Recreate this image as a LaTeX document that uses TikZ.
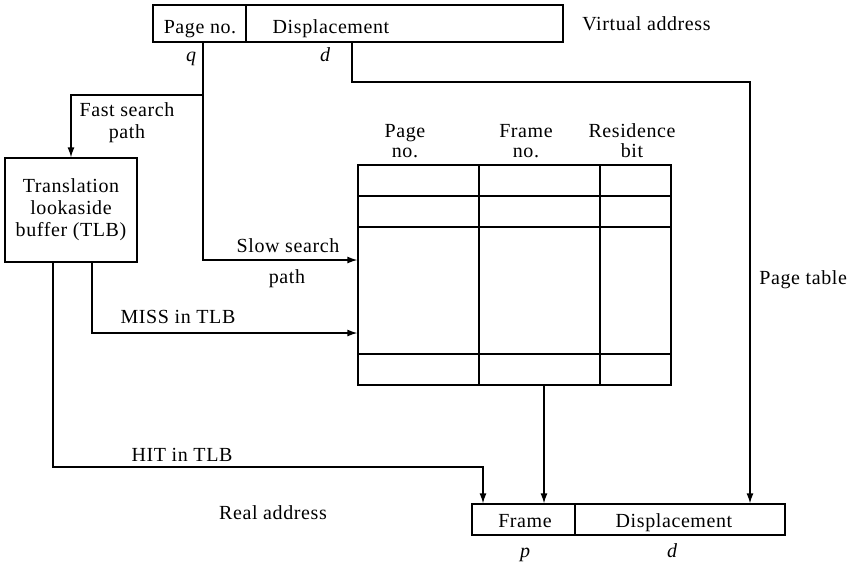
\documentclass[tikz,border=0pt]{standalone}
\usepackage{fontspec}
\setmainfont{Liberation Serif}[LetterSpace=3]
\usetikzlibrary{arrows.meta}
\begin{document}
\begin{tikzpicture}[x=0.5pt,y=-0.5pt,
  every node/.style={font=\fontsize{10}{11}\selectfont, inner sep=0pt},
  lbl/.style={anchor=base},
  boxed/.style={draw, line width=0.65pt},
  conn/.style={line width=0.65pt},
  arr/.style={conn, -{Latex[length=5pt,width=3.5pt]}}]
\useasboundingbox (0,0) rectangle (852,564);

% Virtual address
\node[boxed, minimum width=205pt, minimum height=18.5pt] (va) at (358,23.5) {};
\coordinate (vdiv) at (246,0);
\draw[conn] (va.north -| vdiv) -- (va.south -| vdiv);
\node[lbl] (tpage) at (200,33) {Page no.};
\node[lbl] (tdisp) at (331,33) {Displacement};
\node[lbl, anchor=base west] (tva) at (582,30) {Virtual address};
\node[lbl] (tq) at (191,61) {\itshape q};
\node[lbl] (td) at (325,61) {\itshape d};

% TLB
\node[boxed, minimum width=66pt, minimum height=52pt, align=center] (tlb) at (71,210)
  {Translation\\lookaside\\buffer (TLB)};
\node[lbl] (fs1) at (127,116) {Fast search};
\node[lbl] (fs2) at (127,138) {path};

% Page table
\node[boxed, minimum width=156.5pt, minimum height=110pt] (pt) at (514.5,275) {};
\draw[conn] (358,196) -- (671,196);
\draw[conn] (358,227) -- (671,227);
\draw[conn] (358,354) -- (671,354);
\draw[conn] (479,165) -- (479,385);
\draw[conn] (600,165) -- (600,385);
\node[lbl] (h1a) at (405,137) {Page};
\node[lbl] (h1b) at (405,157) {no.};
\node[lbl] (h2a) at (526,137) {Frame};
\node[lbl] (h2b) at (526,157) {no.};
\node[lbl] (h3a) at (632,137) {Residence};
\node[lbl] (h3b) at (632,157) {bit};
\node[lbl, anchor=base west] (tpt) at (759,284) {Page table};

\node[lbl] (ss1) at (288,252) {Slow search};
\node[lbl] (ss2) at (287,283) {path};
\node[lbl] (miss) at (178,323) {MISS in TLB};
\node[lbl] (hit) at (182,461) {HIT in TLB};
\node[lbl] (real) at (273,519) {Real address};

% Real address
\node[boxed, minimum width=156.5pt, minimum height=15.5pt] (ra) at (628.5,519.5) {};
\coordinate (rdiv) at (575,0);
\draw[conn] (ra.north -| rdiv) -- (ra.south -| rdiv);
\node[lbl] (tframe) at (525,527) {Frame};
\node[lbl] (tdisp2) at (674,527) {Displacement};
\node[lbl] (tp) at (525,557) {\itshape p};
\node[lbl] (td2) at (672,557) {\itshape d};

% connectors
\coordinate (qx) at (203,0);
\coordinate (dx) at (352,0);
\coordinate (dturn) at (750,82);
\coordinate (slowy) at (0,260);
\coordinate (fbranch) at (203,95);
\coordinate (missx) at (92,0);
\coordinate (missy) at (0,333);
\coordinate (hitx) at (53,0);
\coordinate (hitturn) at (483,467);
\coordinate (fx) at (544,0);

\draw[arr] (va.south -| dx) |- (dturn) -- (ra.north -| dturn);
\draw[arr] (va.south -| qx) |- (pt.west |- slowy);
\draw[arr] (fbranch) -| (tlb.north);
\draw[arr] (tlb.south -| missx) |- (pt.west |- missy);
\draw[arr] (tlb.south -| hitx) |- (hitturn) -- (ra.north -| hitturn);
\draw[arr] (pt.south -| fx) -- (ra.north -| fx);
\end{tikzpicture}
\end{document}
